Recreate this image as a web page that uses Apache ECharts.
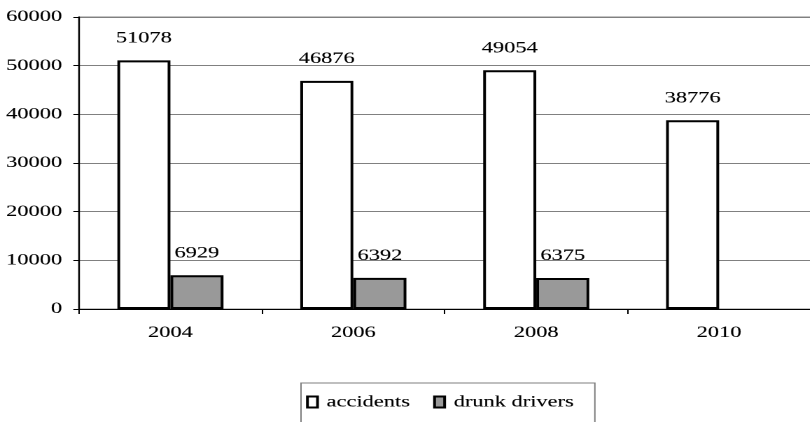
<!DOCTYPE html>
<html>
<head>
<meta charset="utf-8">
<script src="https://cdn.jsdelivr.net/npm/echarts@6/dist/echarts.min.js"></script>
<style>
  html, body { margin: 0; padding: 0; background: #fff; overflow: hidden; }
  #wrap { width: 810px; height: 422px; overflow: hidden; }
  /* chart is laid out narrower and widened horizontally */
  #chart { width: 579px; height: 422px; transform: scaleX(1.4); transform-origin: 0 0; }
</style>
</head>
<body>
<div id="wrap"><div id="chart"></div></div>
<script>
const years = ['2004', '2006', '2008', '2010'];
const accidents = [51078, 46876, 49054, 38776];
const drunkDrivers = [6929, 6392, 6375, null];
const yTicks = { min: 0, max: 60000, interval: 10000 };

const FONT = 'Liberation Serif';
const chart = echarts.init(document.getElementById('chart'), null, { renderer: 'canvas', devicePixelRatio: 2 });

// shared text look: black serif with a hairline outline for a solid print-like weight
const ink = { color: '#000', fontFamily: FONT, fontSize: 16, textBorderColor: '#000', textBorderWidth: 0.12 };

const labelStyle = Object.assign({ show: true, position: 'top', distance: 14 }, ink);

chart.setOption({
  animation: false,
  backgroundColor: '#fff',
  textStyle: { fontFamily: FONT },
  grid: {
    left: 56.4, right: -3.5, top: 17, bottom: 113,
    show: true, borderColor: '#8a8a8a', borderWidth: 1, backgroundColor: 'transparent'
  },
  legend: {
    left: 215, top: 383,
    padding: [11, 15, 30, 3.6],
    borderColor: '#808080', borderWidth: 1,
    itemWidth: 7.2, itemHeight: 11, itemGap: 16.5,
    textStyle: Object.assign({ padding: [0, 0, 0, 1.5] }, ink),
    data: [
      { name: 'accidents', icon: 'rect', itemStyle: { color: '#fff', borderColor: '#000', borderWidth: 2 } },
      { name: 'drunk drivers', icon: 'rect', itemStyle: { color: '#999', borderColor: '#000', borderWidth: 2 } }
    ]
  },
  xAxis: {
    type: 'category',
    data: years,
    axisLine: { lineStyle: { color: '#000', width: 1 } },
    axisTick: { show: true, length: 5, lineStyle: { color: '#000' } },
    axisLabel: Object.assign({ margin: 16 }, ink)
  },
  yAxis: {
    type: 'value',
    min: yTicks.min, max: yTicks.max, interval: yTicks.interval,
    axisLine: { show: true, lineStyle: { color: '#000', width: 1.2 } },
    axisTick: { show: true, length: 4, lineStyle: { color: '#000' } },
    axisLabel: Object.assign({ margin: 12, formatter: v => String(v) }, ink),
    splitLine: { show: true, lineStyle: { color: '#808080', width: 1 } }
  },
  series: [
    {
      name: 'accidents', type: 'bar', data: accidents,
      barWidth: 37.9, barGap: '0%',
      itemStyle: { color: '#fff', borderColor: '#000', borderWidth: 2 },
      label: labelStyle
    },
    {
      name: 'drunk drivers', type: 'bar', data: drunkDrivers,
      barWidth: 37.9, barGap: '0%',
      itemStyle: { color: '#999', borderColor: '#000', borderWidth: 2 },
      label: labelStyle
    }
  ]
});
</script>
</body>
</html>
